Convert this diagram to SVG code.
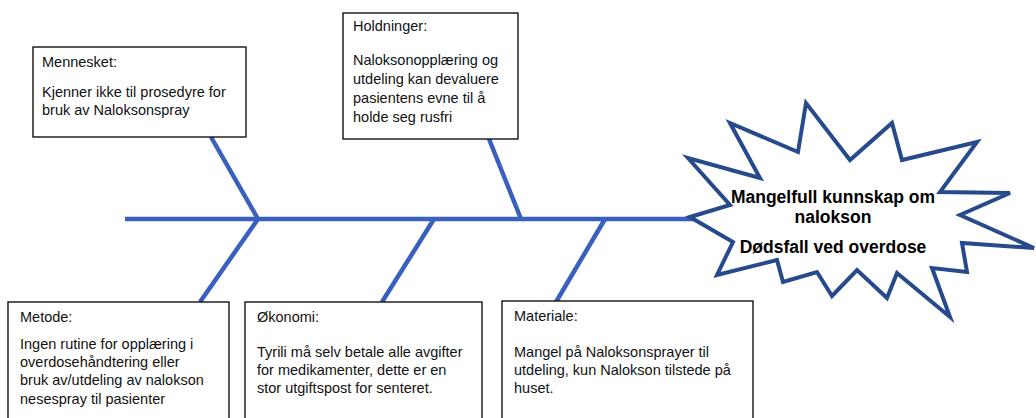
<svg xmlns="http://www.w3.org/2000/svg" width="1036" height="418" viewBox="0 0 1036 418">
<style>
.box{fill:#fff;stroke:#000;stroke-width:1.3}
.t{font-family:"Liberation Sans",Arial,sans-serif;font-size:14.5px;fill:#111}
.bone{stroke:#3a60be;stroke-width:4.5;stroke-linecap:butt;fill:none}
.star{fill:#fff;stroke:#264a8c;stroke-width:4;stroke-linejoin:miter}
.st{font-family:"Liberation Sans",Arial,sans-serif;font-size:17.5px;font-weight:bold;fill:#000;text-anchor:middle}
</style>
<rect width="1036" height="418" fill="#fff"/>
<g id="connectors">
<line class="bone" x1="125" y1="219" x2="696" y2="219"/>
<line class="bone" x1="211" y1="137" x2="258" y2="219"/>
<line class="bone" x1="258" y1="219" x2="200" y2="302"/>
<line class="bone" x1="489" y1="139" x2="521" y2="219"/>
<line class="bone" x1="434" y1="219" x2="382" y2="302"/>
<line class="bone" x1="605" y1="219" x2="556" y2="302"/>
</g>
<g id="effect">
<polygon class="star" points="690,217 730,205 688,158 760,178 730,123 798,152 806,103 850,160 892,123 902,160 977,142 940,192 1010,193 960,215 1034,248 962,243 967,272 932,268 950,317 897,273 887,298 857,270 832,296 817,272 783,282 777,260 717,275 733,242"/>
<text class="st" x="833" y="203">Mangelfull kunnskap om</text>
<text class="st" x="833" y="223">nalokson</text>
<text class="st" x="833" y="253">Dødsfall ved overdose</text>
</g>
<g id="mennesket">
<rect class="box" x="33" y="47" width="213" height="90"/>
<text class="t" x="42" y="67">Mennesket:</text>
<text class="t" x="42" y="97">Kjenner ikke til prosedyre for</text>
<text class="t" x="42" y="115">bruk av Naloksonspray</text>
</g>
<g id="holdninger">
<rect class="box" x="343" y="13" width="175" height="126"/>
<text class="t" x="353" y="31">Holdninger:</text>
<text class="t" x="353" y="65">Naloksonopplæring og</text>
<text class="t" x="353" y="84">utdeling kan devaluere</text>
<text class="t" x="353" y="103">pasientens evne til å</text>
<text class="t" x="353" y="122">holde seg rusfri</text>
</g>
<g id="metode">
<rect class="box" x="8" y="302" width="221" height="120"/>
<text class="t" x="20" y="322">Metode:</text>
<text class="t" x="20" y="349">Ingen rutine for opplæring i</text>
<text class="t" x="20" y="367">overdosehåndtering eller</text>
<text class="t" x="20" y="385">bruk av/utdeling av nalokson</text>
<text class="t" x="20" y="404">nesespray til pasienter</text>
</g>
<g id="okonomi">
<rect class="box" x="245" y="302" width="237" height="120"/>
<text class="t" x="257" y="322">Økonomi:</text>
<text class="t" x="257" y="357">Tyrili må selv betale alle avgifter</text>
<text class="t" x="257" y="375">for medikamenter, dette er en</text>
<text class="t" x="257" y="393">stor utgiftspost for senteret.</text>
</g>
<g id="materiale">
<rect class="box" x="502" y="301" width="251" height="121"/>
<text class="t" x="514" y="321">Materiale:</text>
<text class="t" x="514" y="357">Mangel på Naloksonsprayer til</text>
<text class="t" x="514" y="375">utdeling, kun Nalokson tilstede på</text>
<text class="t" x="514" y="393">huset.</text>
</g>
</svg>
